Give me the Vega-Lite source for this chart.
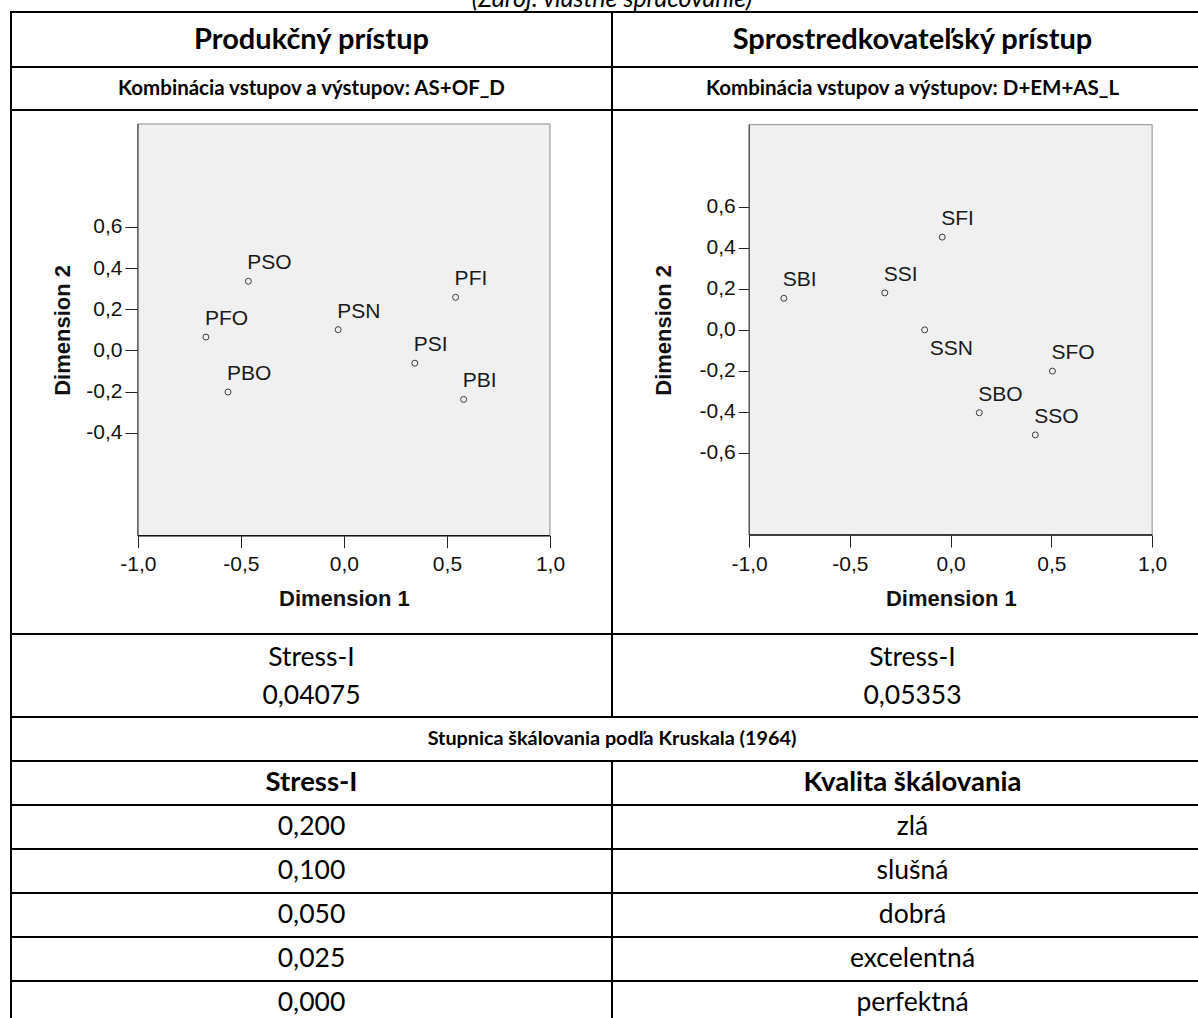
{
  "$schema": "https://vega.github.io/schema/vega-lite/v6.json",
  "padding": {"left": 9, "top": 0, "right": 0, "bottom": 0},
  "columns": 2,
  "bounds": "flush",
  "spacing": 0,
  "config": {
    "font": "Lato",
    "view": {"stroke": "black", "strokeWidth": 2},
    "concat": {"spacing": 0},
    "locale": {"number": {"decimal": ",", "thousands": " ", "grouping": [3], "currency": ["", ""], "minus": "-"}},
    "text": {"color": "#000000"}
  },
  "datasets": {
    "produkcny": [
      {"bod": "PSO", "dim1": -0.464, "dim2": 0.336},
      {"bod": "PFO", "dim1": -0.670, "dim2": 0.065},
      {"bod": "PBO", "dim1": -0.563, "dim2": -0.202},
      {"bod": "PSN", "dim1": -0.028, "dim2": 0.101},
      {"bod": "PFI", "dim1": 0.542, "dim2": 0.258},
      {"bod": "PSI", "dim1": 0.344, "dim2": -0.062},
      {"bod": "PBI", "dim1": 0.581, "dim2": -0.238}
    ],
    "sprostredkovatelsky": [
      {"bod": "SFI", "dim1": -0.042, "dim2": 0.452},
      {"bod": "SBI", "dim1": -0.828, "dim2": 0.154},
      {"bod": "SSI", "dim1": -0.327, "dim2": 0.180},
      {"bod": "SSN", "dim1": -0.129, "dim2": 0.000},
      {"bod": "SFO", "dim1": 0.505, "dim2": -0.201},
      {"bod": "SBO", "dim1": 0.142, "dim2": -0.404},
      {"bod": "SSO", "dim1": 0.420, "dim2": -0.512}
    ],
    "kruskal": [
      {"stress": 0.2, "kvalita": "zlá"},
      {"stress": 0.1, "kvalita": "slušná"},
      {"stress": 0.05, "kvalita": "dobrá"},
      {"stress": 0.025, "kvalita": "excelentná"},
      {"stress": 0.0, "kvalita": "perfektná"}
    ],
    "zdroj": [{"text": "(Zdroj: vlastné spracovanie)"}]
  },
  "concat": [
    {
      "width": 601, "height": 12,
      "view": {"stroke": null},
      "data": {"name": "zdroj"},
      "mark": {"type": "text", "clip": true, "fontSize": 25, "fontStyle": "italic", "baseline": "alphabetic", "align": "center", "dy": 1},
      "encoding": {"x": {"value": "width"}, "text": {"field": "text"}}
    },
    {
      "width": 601, "height": 12,
      "view": {"stroke": null},
      "data": {"name": "zdroj"},
      "mark": {"type": "text", "clip": true, "fontSize": 25, "fontStyle": "italic", "baseline": "alphabetic", "align": "center", "dy": 1},
      "encoding": {"x": {"value": 0}, "text": {"field": "text"}}
    },
    {
      "width": 601, "height": 55,
      "data": {"values": [{"pristup": "Produkčný prístup"}]},
      "layer": [
        {"mark": {"type": "rect", "fill": "white", "stroke": "black", "strokeWidth": 2}},
        {"mark": {"type": "text", "fontSize": 29, "fontWeight": "bold"}, "encoding": {"text": {"field": "pristup"}}}
      ]
    },
    {
      "width": 601, "height": 55,
      "data": {"values": [{"pristup": "Sprostredkovateľský prístup"}]},
      "layer": [
        {"mark": {"type": "rect", "fill": "white", "stroke": "black", "strokeWidth": 2}},
        {"mark": {"type": "text", "fontSize": 29, "fontWeight": "bold"}, "encoding": {"text": {"field": "pristup"}}}
      ]
    },
    {
      "width": 601, "height": 43,
      "data": {"values": [{"kombinacia": "Kombinácia vstupov a výstupov: AS+OF_D"}]},
      "layer": [
        {"mark": {"type": "rect", "fill": "white", "stroke": "black", "strokeWidth": 2}},
        {"mark": {"type": "text", "fontSize": 20.5, "fontWeight": "bold"}, "encoding": {"text": {"field": "kombinacia"}}}
      ]
    },
    {
      "width": 601, "height": 43,
      "data": {"values": [{"kombinacia": "Kombinácia vstupov a výstupov: D+EM+AS_L"}]},
      "layer": [
        {"mark": {"type": "rect", "fill": "white", "stroke": "black", "strokeWidth": 2}},
        {"mark": {"type": "text", "fontSize": 20.5, "fontWeight": "bold"}, "encoding": {"text": {"field": "kombinacia"}}}
      ]
    },
    {
      "width": 601, "height": 524,
      "layer": [
        {
          "data": {"values": [{}]},
          "mark": {"type": "rect", "fill": "#f0f0f0", "stroke": "#8c8c8c", "strokeWidth": 1},
          "encoding": {
            "x": {"datum": -1, "type": "quantitative",
              "scale": {"domain": [-1.616, 1.301], "nice": false, "zero": false},
              "axis": {"orient": "bottom", "offset": -98.3, "values": [-1, -0.5, 0, 0.5, 1], "format": ".1f", "domain": false, "grid": false, "tickSize": 12, "tickColor": "#222222", "labelFont": "Liberation Sans", "labelFontSize": 21, "labelColor": "#111111", "labelPadding": 6, "labelFlush": false, "labelOverlap": false, "title": "Dimension 1", "titleFont": "Liberation Sans", "titleFontSize": 22, "titleFontWeight": "bold", "titleColor": "#111111", "titlePadding": 14, "titleX": 332.9}},
            "x2": {"datum": 1},
            "y": {"datum": -0.9, "type": "quantitative",
              "scale": {"domain": [-1.3775, 1.168], "nice": false, "zero": false},
              "axis": {"orient": "left", "offset": -126.9, "values": [-0.4, -0.2, 0, 0.2, 0.4, 0.6], "format": ".1f", "domain": false, "grid": false, "tickSize": 13, "tickColor": "#222222", "labelFont": "Liberation Sans", "labelFontSize": 21, "labelColor": "#111111", "labelPadding": 3, "labelBaseline": "middle", "labelFlush": false, "labelOverlap": false, "title": "Dimension 2", "titleFont": "Liberation Sans", "titleFontSize": 22, "titleFontWeight": "bold", "titleColor": "#111111", "titleX": -74.9, "titleY": 219.9, "titleBaseline": "middle", "titleAngle": 270}},
            "y2": {"datum": 1.1}
          }
        },
        {
          "data": {"values": [{}]},
          "mark": {"type": "rule", "color": "#333333", "strokeWidth": 1},
          "encoding": {
            "x": {"datum": -1, "type": "quantitative", "scale": {"domain": [-1.616, 1.301], "nice": false, "zero": false}},
            "y": {"datum": -0.9, "type": "quantitative", "scale": {"domain": [-1.3775, 1.168], "nice": false, "zero": false}},
            "y2": {"datum": 1.1}
          }
        },
        {
          "data": {"values": [{}]},
          "mark": {"type": "rule", "color": "#111111", "strokeWidth": 1.5},
          "encoding": {
            "x": {"datum": -1, "type": "quantitative", "scale": {"domain": [-1.616, 1.301], "nice": false, "zero": false}},
            "x2": {"datum": 1},
            "y": {"datum": -0.9, "type": "quantitative", "scale": {"domain": [-1.3775, 1.168], "nice": false, "zero": false}}
          }
        },
        {
          "data": {"name": "produkcny"},
          "mark": {"type": "point", "shape": "circle", "filled": false, "size": 36, "stroke": "#3c3c3c", "strokeWidth": 1, "opacity": 1},
          "encoding": {
            "x": {"field": "dim1", "type": "quantitative", "scale": {"domain": [-1.616, 1.301], "nice": false, "zero": false}},
            "y": {"field": "dim2", "type": "quantitative", "scale": {"domain": [-1.3775, 1.168], "nice": false, "zero": false}}
          }
        },
        {
          "data": {"name": "produkcny"},
          "mark": {"type": "text", "align": "left", "baseline": "alphabetic", "dx": -1, "dy": -12, "font": "Liberation Sans", "fontSize": 21, "color": "#1a1a1a"},
          "encoding": {
            "x": {"field": "dim1", "type": "quantitative", "scale": {"domain": [-1.616, 1.301], "nice": false, "zero": false}},
            "y": {"field": "dim2", "type": "quantitative", "scale": {"domain": [-1.3775, 1.168], "nice": false, "zero": false}},
            "text": {"field": "bod"}
          }
        }
      ]
    },
    {
      "width": 601, "height": 524,
      "layer": [
        {
          "data": {"values": [{}]},
          "mark": {"type": "rect", "fill": "#f0f0f0", "stroke": "#8c8c8c", "strokeWidth": 1},
          "encoding": {
            "x": {"datum": -1, "type": "quantitative",
              "scale": {"domain": [-1.681, 1.302], "nice": false, "zero": false},
              "axis": {"orient": "bottom", "offset": -99, "values": [-1, -0.5, 0, 0.5, 1], "format": ".1f", "domain": false, "grid": false, "tickSize": 12, "tickColor": "#222222", "labelFont": "Liberation Sans", "labelFontSize": 21, "labelColor": "#111111", "labelPadding": 6, "labelFlush": false, "labelOverlap": false, "title": "Dimension 1", "titleFont": "Liberation Sans", "titleFontSize": 22, "titleFontWeight": "bold", "titleColor": "#111111", "titlePadding": 14, "titleX": 338.8}},
            "x2": {"datum": 1},
            "y": {"datum": -1, "type": "quantitative",
              "scale": {"domain": [-1.4825, 1.0716], "nice": false, "zero": false},
              "axis": {"orient": "left", "offset": -137.3, "values": [-0.6, -0.4, -0.2, 0, 0.2, 0.4, 0.6], "format": ".1f", "domain": false, "grid": false, "tickSize": 11, "tickColor": "#222222", "labelFont": "Liberation Sans", "labelFontSize": 21, "labelColor": "#111111", "labelPadding": 3, "labelBaseline": "middle", "labelFlush": false, "labelOverlap": false, "title": "Dimension 2", "titleFont": "Liberation Sans", "titleFontSize": 22, "titleFontWeight": "bold", "titleColor": "#111111", "titleX": -86.3, "titleY": 219.85, "titleBaseline": "middle", "titleAngle": 270}},
            "y2": {"datum": 1}
          }
        },
        {
          "data": {"values": [{}]},
          "mark": {"type": "rule", "color": "#333333", "strokeWidth": 1},
          "encoding": {
            "x": {"datum": -1, "type": "quantitative", "scale": {"domain": [-1.681, 1.302], "nice": false, "zero": false}},
            "y": {"datum": -1, "type": "quantitative", "scale": {"domain": [-1.4825, 1.0716], "nice": false, "zero": false}},
            "y2": {"datum": 1}
          }
        },
        {
          "data": {"values": [{}]},
          "mark": {"type": "rule", "color": "#111111", "strokeWidth": 1.5},
          "encoding": {
            "x": {"datum": -1, "type": "quantitative", "scale": {"domain": [-1.681, 1.302], "nice": false, "zero": false}},
            "x2": {"datum": 1},
            "y": {"datum": -1, "type": "quantitative", "scale": {"domain": [-1.4825, 1.0716], "nice": false, "zero": false}}
          }
        },
        {
          "data": {"name": "sprostredkovatelsky"},
          "mark": {"type": "point", "shape": "circle", "filled": false, "size": 36, "stroke": "#3c3c3c", "strokeWidth": 1, "opacity": 1},
          "encoding": {
            "x": {"field": "dim1", "type": "quantitative", "scale": {"domain": [-1.681, 1.302], "nice": false, "zero": false}},
            "y": {"field": "dim2", "type": "quantitative", "scale": {"domain": [-1.4825, 1.0716], "nice": false, "zero": false}}
          }
        },
        {
          "data": {"name": "sprostredkovatelsky"},
          "transform": [{"filter": "datum.bod !== 'SSN'"}],
          "mark": {"type": "text", "align": "left", "baseline": "alphabetic", "dx": -1, "dy": -12, "font": "Liberation Sans", "fontSize": 21, "color": "#1a1a1a"},
          "encoding": {
            "x": {"field": "dim1", "type": "quantitative", "scale": {"domain": [-1.681, 1.302], "nice": false, "zero": false}},
            "y": {"field": "dim2", "type": "quantitative", "scale": {"domain": [-1.4825, 1.0716], "nice": false, "zero": false}},
            "text": {"field": "bod"}
          }
        },
        {
          "data": {"name": "sprostredkovatelsky"},
          "transform": [{"filter": "datum.bod === 'SSN'"}],
          "mark": {"type": "text", "align": "left", "baseline": "alphabetic", "dx": 5, "dy": 25, "font": "Liberation Sans", "fontSize": 21, "color": "#1a1a1a"},
          "encoding": {
            "x": {"field": "dim1", "type": "quantitative", "scale": {"domain": [-1.681, 1.302], "nice": false, "zero": false}},
            "y": {"field": "dim2", "type": "quantitative", "scale": {"domain": [-1.4825, 1.0716], "nice": false, "zero": false}},
            "text": {"field": "bod"}
          }
        }
      ]
    },
    {
      "width": 601, "height": 83,
      "data": {"values": [{"miera": "Stress-I", "stress": 0.04075}]},
      "layer": [
        {"mark": {"type": "rect", "fill": "white", "stroke": "black", "strokeWidth": 2}},
        {"mark": {"type": "text", "fontSize": 26.5, "dy": -18}, "encoding": {"text": {"field": "miera"}}},
        {"mark": {"type": "text", "fontSize": 26.5, "dy": 20}, "encoding": {"text": {"field": "stress", "type": "quantitative", "format": ".5f"}}}
      ]
    },
    {
      "width": 601, "height": 83,
      "data": {"values": [{"miera": "Stress-I", "stress": 0.05353}]},
      "layer": [
        {"mark": {"type": "rect", "fill": "white", "stroke": "black", "strokeWidth": 2}},
        {"mark": {"type": "text", "fontSize": 26.5, "dy": -18}, "encoding": {"text": {"field": "miera"}}},
        {"mark": {"type": "text", "fontSize": 26.5, "dy": 20}, "encoding": {"text": {"field": "stress", "type": "quantitative", "format": ".5f"}}}
      ]
    },
    {
      "width": 601, "height": 44,
      "view": {"stroke": null},
      "data": {"values": [{}]},
      "mark": {"type": "rule", "color": "black", "strokeWidth": 2},
      "encoding": {"x": {"value": 0}, "y": {"value": 0}, "y2": {"value": "height"}}
    },
    {
      "width": 601, "height": 44,
      "view": {"stroke": null},
      "data": {"values": [{"nadpis": "Stupnica škálovania podľa Kruskala (1964)"}]},
      "mark": {"type": "text", "fontSize": 19.8, "fontWeight": "bold", "align": "center"},
      "encoding": {"x": {"value": 0}, "text": {"field": "nadpis"}}
    },
    {
      "width": 601, "height": 44,
      "data": {"values": [{"stlpec": "Stress-I"}]},
      "layer": [
        {"mark": {"type": "rect", "fill": "white", "stroke": "black", "strokeWidth": 2}},
        {"mark": {"type": "text", "fontSize": 27.5, "fontWeight": "bold"}, "encoding": {"text": {"field": "stlpec"}}}
      ]
    },
    {
      "width": 601, "height": 44,
      "data": {"values": [{"stlpec": "Kvalita škálovania"}]},
      "layer": [
        {"mark": {"type": "rect", "fill": "white", "stroke": "black", "strokeWidth": 2}},
        {"mark": {"type": "text", "fontSize": 27.5, "fontWeight": "bold"}, "encoding": {"text": {"field": "stlpec"}}}
      ]
    },
    {
      "width": 601, "height": 220,
      "data": {"name": "kruskal"},
      "encoding": {"y": {"field": "kvalita", "type": "nominal", "sort": null, "axis": null, "scale": {"paddingInner": 0, "paddingOuter": 0}}},
      "layer": [
        {"mark": {"type": "rect", "fill": "white", "stroke": "black", "strokeWidth": 2}},
        {"mark": {"type": "text", "fontSize": 26.5}, "encoding": {"text": {"field": "stress", "type": "quantitative", "format": ".3f"}}}
      ]
    },
    {
      "width": 601, "height": 220,
      "data": {"name": "kruskal"},
      "encoding": {"y": {"field": "kvalita", "type": "nominal", "sort": null, "axis": null, "scale": {"paddingInner": 0, "paddingOuter": 0}}},
      "layer": [
        {"mark": {"type": "rect", "fill": "white", "stroke": "black", "strokeWidth": 2}},
        {"mark": {"type": "text", "fontSize": 26.5}, "encoding": {"text": {"field": "kvalita"}}}
      ]
    }
  ]
}
